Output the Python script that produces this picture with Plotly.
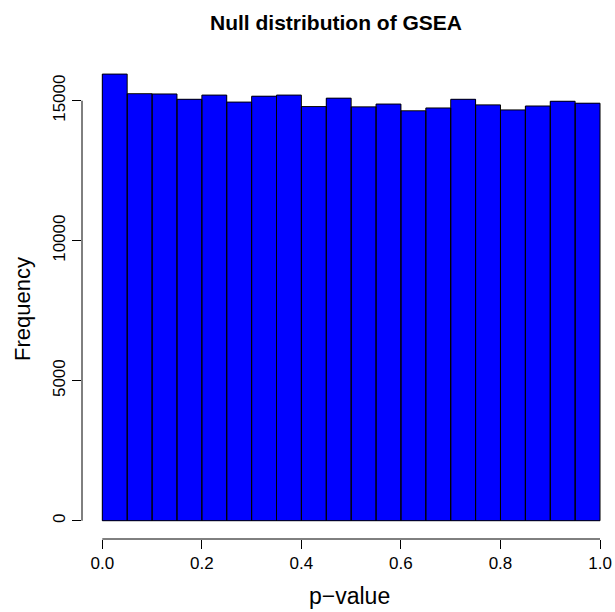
import plotly.graph_objects as go

# Histogram of GSEA null p-values: 20 bins of width 0.05 on [0, 1]
bin_edges = [0.00, 0.05, 0.10, 0.15, 0.20, 0.25, 0.30, 0.35, 0.40, 0.45, 0.50,
             0.55, 0.60, 0.65, 0.70, 0.75, 0.80, 0.85, 0.90, 0.95, 1.00]
counts = [15950, 15250, 15240, 15050, 15200, 14950, 15160, 15200, 14790, 15090,
          14780, 14880, 14640, 14740, 15050, 14850, 14670, 14810, 14980, 14910]

x_ticks = [0.0, 0.2, 0.4, 0.6, 0.8, 1.0]
x_tick_labels = ["0.0", "0.2", "0.4", "0.6", "0.8", "1.0"]
y_ticks = [0, 5000, 10000, 15000]
y_tick_labels = ["0", "5000", "10000", "15000"]

lefts = bin_edges[:-1]
rights = bin_edges[1:]
centers = [(a + b) / 2 for a, b in zip(lefts, rights)]
widths = [b - a for a, b in zip(lefts, rights)]

FONT = "Liberation Sans, Arial, Helvetica, sans-serif"

fig = go.Figure()
# filled bars
fig.add_trace(go.Bar(
    x=centers, y=counts, width=widths,
    marker=dict(color="#0000FF", line=dict(width=0)),
    hoverinfo="x+y",
))

# black rectangle outline of every bin, drawn as one line trace
ox, oy = [], []
for a, b, c in zip(lefts, rights, counts):
    ox += [a, a, b, b, a, None]
    oy += [0, c, c, 0, 0, None]
fig.add_trace(go.Scatter(
    x=ox, y=oy, mode="lines",
    line=dict(color="black", width=1),
    hoverinfo="skip",
))

W, H = 615, 612
L, R, T, B = 82, 0, 56, 73
plot_w, plot_h = W - L - R, H - T - B

fig.update_layout(
    width=W,
    height=H,
    margin=dict(l=L, r=R, t=T, b=B, pad=0),
    paper_bgcolor="white",
    plot_bgcolor="white",
    showlegend=False,
    font=dict(family=FONT, color="black"),
    bargap=0,
)

fig.update_xaxes(
    range=[-0.0408, 1.0301],
    tickvals=x_ticks,
    ticktext=x_tick_labels,
    ticks="outside",
    ticklen=9,
    tickwidth=1,
    tickcolor="black",
    tickfont=dict(size=17, family=FONT, color="black"),
    showgrid=False,
    zeroline=False,
    showline=False,
    fixedrange=True,
)
fig.update_yaxes(
    range=[-653, 16596],
    tickvals=y_ticks,
    ticktext=y_tick_labels,
    tickangle=-90,
    ticks="outside",
    ticklen=9,
    tickwidth=1,
    tickcolor="black",
    tickfont=dict(size=17, family=FONT, color="black"),
    showgrid=False,
    zeroline=False,
    showline=False,
    fixedrange=True,
)

# R-style axis lines that span only the first to last tick
fig.add_shape(type="line", xref="x", yref="paper",
              x0=x_ticks[0], x1=x_ticks[-1], y0=0, y1=0,
              line=dict(color="black", width=1))
fig.add_shape(type="line", xref="paper", yref="y",
              x0=0, x1=0, y0=y_ticks[0], y1=y_ticks[-1],
              line=dict(color="black", width=1))


def px_x(px):
    return (px - L) / plot_w


def px_y(py):
    return (H - B - py) / plot_h


fig.add_annotation(text="<b>Null distribution of GSEA</b>", xref="paper", yref="paper",
                   x=px_x(336), y=px_y(23), xanchor="center", yanchor="middle",
                   showarrow=False, font=dict(size=21, family=FONT, color="black"))
fig.add_annotation(text="p\u2212value", xref="paper", yref="paper",
                   x=px_x(349), y=px_y(596), xanchor="center", yanchor="middle",
                   showarrow=False, font=dict(size=23, family=FONT, color="black"))
fig.add_annotation(text="Frequency", xref="paper", yref="paper",
                   x=px_x(22), y=px_y(309), xanchor="center", yanchor="middle",
                   textangle=-90,
                   showarrow=False, font=dict(size=22, family=FONT, color="black"))

fig.write_html("out.html")
